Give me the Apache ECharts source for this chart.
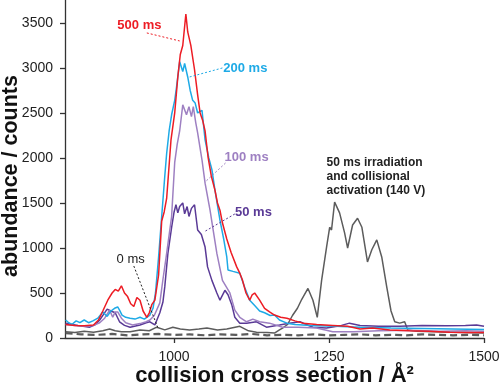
<!DOCTYPE html>
<html><head><meta charset="utf-8">
<script src="https://cdn.jsdelivr.net/npm/echarts@6/dist/echarts.min.js"></script>
<style>html,body{margin:0;padding:0;background:#fff}#c{width:500px;height:385px}</style>
</head><body><div id="c"></div>
<script>
const xTicks = [1000, 1250, 1500];
const yTicks = [0, 500, 1000, 1500, 2000, 2500, 3000, 3500];

const x500 = [825,840,855,870,878,885,893,900,905,910,915,920,925,930,935,940,945,950,956,960,964,969,975,980,984,988,995,1001,1006,1010,1014,1019,1022,1027,1033,1038,1042,1046,1050,1055,1060,1066,1070,1074,1078,1085,1092,1101,1106,1110,1116,1122,1126,1130,1138,1146,1154,1162,1172,1182,1195,1208,1230,1256,1280,1300,1320,1348,1380,1410,1445,1470,1500];
const y500 = [150,140,135,145,200,300,420,500,540,520,580,500,460,380,350,450,420,300,230,280,370,420,700,1300,1400,1550,2200,2500,2900,3150,3250,3600,3400,3250,2980,2700,2500,2420,2300,2000,1800,1640,1500,1420,1280,1100,950,790,720,650,500,420,480,500,420,330,290,255,230,220,190,165,150,140,130,100,110,90,80,75,65,60,60];

const x200 = [825,830,835,842,848,855,862,869,877,885,892,898,904,909,912,916,922,929,937,945,952,961,966,970,975,980,985,988,992,996,1001,1004,1009,1014,1017,1022,1026,1030,1034,1038,1045,1050,1056,1061,1066,1074,1080,1085,1087,1095,1106,1114,1122,1130,1138,1146,1155,1162,1170,1182,1195,1220,1260,1300,1350,1400,1450,1500];
const y200 = [200,170,150,190,170,200,170,190,220,290,240,300,330,345,310,255,230,220,210,230,210,255,330,500,900,1350,1800,2050,2300,2480,2640,2790,3070,2960,3050,2900,2750,2640,2610,2500,2530,2200,2000,1870,1640,1310,1100,900,755,740,720,560,420,360,300,280,250,255,200,165,150,140,130,120,110,105,100,95];

const x100 = [825,840,855,870,880,888,896,901,905,909,915,922,933,945,955,961,968,977,982,988,996,1001,1005,1009,1014,1017,1020,1024,1028,1031,1035,1038,1045,1050,1058,1063,1069,1078,1090,1098,1106,1117,1127,1138,1154,1175,1200,1230,1256,1290,1330,1380,1430,1470,1500];
const y100 = [150,140,130,140,170,220,310,230,290,290,220,170,145,160,180,200,250,390,650,940,1350,1950,2150,2300,2590,2610,2480,2570,2460,2570,2390,2280,1980,1720,1420,1200,940,640,500,310,230,180,210,180,165,120,120,110,70,70,80,85,75,80,75];

const x50 = [825,845,864,873,880,887,892,898,905,912,920,929,945,955,961,969,977,982,985,990,996,1000,1003,1006,1009,1014,1017,1021,1024,1028,1033,1038,1044,1050,1054,1061,1069,1074,1082,1087,1093,1098,1106,1117,1133,1149,1170,1186,1203,1224,1246,1270,1283,1300,1330,1364,1400,1440,1470,1488,1500];
const y50 = [165,140,120,150,200,270,320,300,280,180,140,120,145,170,180,145,280,400,570,940,1230,1400,1480,1390,1460,1500,1380,1460,1350,1440,1480,1200,1150,1010,790,640,500,420,530,480,370,230,165,165,180,120,145,165,180,120,110,140,165,140,130,130,140,135,140,145,130];

const xCA = [825,840,855,870,885,896,905,915,929,945,960,972,985,998,1010,1025,1040,1053,1070,1085,1106,1120,1133,1150,1162,1170,1175,1183,1191,1199,1206,1216,1224,1231,1238,1246,1251,1254,1259,1262,1267,1275,1280,1288,1296,1303,1312,1319,1327,1335,1343,1350,1356,1364,1372,1377,1391,1420,1450,1500];
const yCA = [70,60,75,65,80,100,80,70,70,90,80,120,90,120,100,90,100,110,90,100,130,80,65,60,55,90,110,150,250,330,430,550,420,230,640,1010,1230,1200,1510,1500,1390,1170,1000,1255,1330,1230,845,980,1090,900,570,300,180,165,180,90,75,70,65,55];

const x0 = [825,850,875,900,925,950,975,1000,1025,1050,1075,1100,1125,1150,1175,1200,1225,1250,1275,1300,1325,1350,1375,1400,1425,1450,1475,1500];
const y0 = [55,40,35,45,30,40,45,35,40,30,40,35,45,30,35,30,40,30,35,40,30,35,30,40,35,30,35,30];

const zip = (xs, ys) => xs.map((x, i) => [x, ys[i]]);
const FONT = 'Liberation Sans, Arial, sans-serif';

const C = {r:'#ED1C24', c:'#1EAAE6', l:'#9E80C2', d:'#5A3A96', g:'#5C5C5C', k:'#222'};

function line(name, xs, ys, color, extra) {
  return Object.assign({
    name, type:'line', data: zip(xs, ys), showSymbol:false, symbol:'none',
    lineStyle:{color, width:1.5}, itemStyle:{color}, animation:false, z:2
  }, extra || {});
}

const chart = echarts.init(document.getElementById('c'), null, {renderer:'canvas'});
const option = {
  animation:false,
  backgroundColor:'#fff',
  grid:{left:65, right:16, top:0, bottom:47, containLabel:false, outerBoundsMode:'none'},
  xAxis:{
    type:'value', min:824, max:1500,
    name:'collision cross section / Å²', nameLocation:'middle', nameGap:27, nameMoveOverlap:false,
    nameTextStyle:{fontFamily:FONT, fontSize:22, fontWeight:'bold', color:'#111'},
    axisLine:{show:true, lineStyle:{color:'#333', width:1.3}},
    axisTick:{show:true, inside:false, length:5, customValues:xTicks, lineStyle:{color:'#333', width:1.3}},
    axisLabel:{customValues:xTicks, margin:12, fontFamily:FONT, fontSize:14, color:'#222', formatter:v => String(v)},
    splitLine:{show:false}
  },
  yAxis:{
    type:'value', min:0, max:3755,
    name:'abundance / counts', nameLocation:'middle', nameGap:43, nameMoveOverlap:false,
    nameTextStyle:{fontFamily:FONT, fontSize:21.5, fontWeight:'bold', color:'#111', padding:[0,14,0,0]},
    axisLine:{show:true, lineStyle:{color:'#333', width:1.3}},
    axisTick:{show:true, inside:false, length:5, customValues:yTicks, lineStyle:{color:'#333', width:1.3}},
    axisLabel:{customValues:yTicks, margin:12, fontFamily:FONT, fontSize:14, color:'#222', formatter:v => String(v)},
    splitLine:{show:false}
  },
  series:[
    line('0 ms', x0, y0, C.g, {lineStyle:{color:C.g, width:2.2, type:[7,4]}}),
    line('50 ms irradiation and collisional activation (140 V)', xCA, yCA, C.g),
    line('50 ms', x50, y50, C.d),
    line('100 ms', x100, y100, C.l),
    line('200 ms', x200, y200, C.c),
    line('500 ms', x500, y500, C.r)
  ]
};
chart.setOption(option);

const annotations = [
  {text:'500 ms', color:C.r, at:[944,3478], from:[956,3389], to:[1009,3300], size:13, bold:true},
  {text:'200 ms', color:C.c, at:[1115,3000], from:[1078,3000], to:[1025,2900], size:13, bold:true},
  {text:'100 ms', color:C.l, at:[1117,2011], from:[1083,1944], to:[1050,1733], size:13, bold:true},
  {text:'50 ms', color:C.d, at:[1128,1400], from:[1098,1378], to:[1048,1178], size:13, bold:true},
  {text:'0 ms', color:C.k, at:[930,878], from:[935,800], to:[974,111], size:13, bold:false}
];
const toPx = p => chart.convertToPixel({xAxisIndex:0, yAxisIndex:0}, p);
const g = [];
annotations.forEach(a => {
  const p = toPx(a.at), f = toPx(a.from), t = toPx(a.to);
  g.push({type:'text', x:p[0], y:p[1], z:10, style:{text:a.text, fill:a.color, fontFamily:FONT, fontSize:a.size, fontWeight:a.bold?'bold':'normal', align:'center', verticalAlign:'middle'}});
  g.push({type:'line', z:10, shape:{x1:f[0], y1:f[1], x2:t[0], y2:t[1]}, style:{stroke:a.color, lineWidth:1, lineDash:[2,2]}});
});
const ca = toPx([1246, 2022]);
g.push({type:'text', x:ca[0], y:ca[1], z:10, style:{text:'50 ms irradiation\nand collisional\nactivation (140 V)', fill:C.k, fontFamily:FONT, fontSize:12, fontWeight:'bold', lineHeight:14, align:'left', verticalAlign:'top'}});
chart.setOption({graphic:g});
</script></body></html>
